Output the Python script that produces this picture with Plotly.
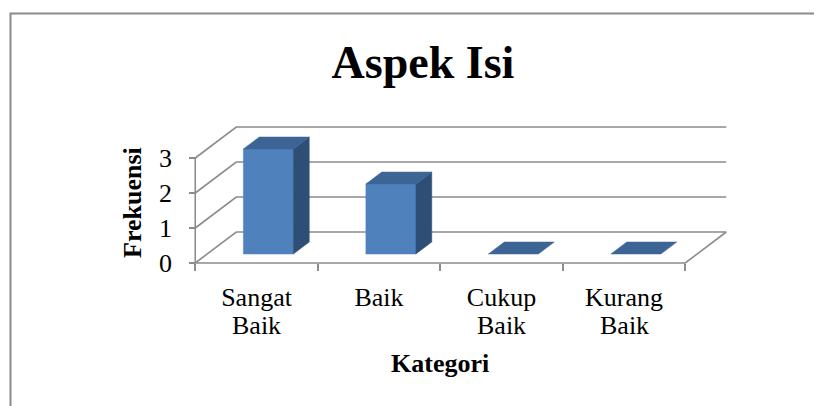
import plotly.graph_objects as go

# ---- data ----
categories = ["Sangat Baik", "Baik", "Cukup Baik", "Kurang Baik"]
label_line1 = ["Sangat", "Baik", "Cukup", "Kurang"]
label_line2 = ["Baik", "", "Baik", "Baik"]
frekuensi = [3, 2, 0, 0]
y_ticks = [0, 1, 2, 3]

# ---- pseudo-3D geometry ----
OFF = 8                # browser body margin
W, H = 822 - OFF, 406 - OFF
PX_PER_CAT = 122.5     # pixels per category
PX_PER_UNIT = 35.0     # pixels per frequency unit
X0_PX = 256.5 - OFF    # pixel of first category centre
Y0_PX = 263.0 - OFF    # pixel of value 0 (front floor)
DX = 41 / PX_PER_CAT   # depth offset x
DY = 31 / PX_PER_UNIT  # depth offset y
F0, F1 = 9 / 31, 21 / 31   # bar depth span (fraction of floor depth)
BW = 50 / PX_PER_CAT       # bar width

FONT = "Liberation Serif"
GRID = "#8c8c8c"
C_FRONT, C_TOP, C_SIDE = "#4F81BD", "#3C6494", "#2F4E76"

xr = [(0 - X0_PX) / PX_PER_CAT, (W - X0_PX) / PX_PER_CAT]
yr = [(Y0_PX - H) / PX_PER_UNIT, Y0_PX / PX_PER_UNIT]

n = len(categories)
left, right = -0.5, n - 0.5
ymax = max(y_ticks)

fig = go.Figure()

def line(xs, ys, width=1.6, color=GRID):
    fig.add_trace(go.Scatter(x=xs, y=ys, mode="lines", hoverinfo="skip",
                             line=dict(color=color, width=width), showlegend=False))

def poly(xs, ys, color):
    fig.add_trace(go.Scatter(x=xs + [xs[0]], y=ys + [ys[0]], mode="lines", fill="toself",
                             fillcolor=color, line=dict(color=color, width=0.5),
                             hoverinfo="skip", showlegend=False))

# side-wall diagonals and back-wall gridlines
for v in y_ticks:
    line([left, left + DX, right + DX], [v, v + DY, v + DY])
# front vertical axis
line([left, left], [0, ymax])
# floor front edge and right edge
line([left, right, right + DX], [0, 0, DY])

# bars
for i, v in enumerate(frekuensi):
    xl = i - BW / 2 + F0 * DX
    xr_ = i + BW / 2 + F0 * DX
    yb = F0 * DY
    yt = yb + v
    ddx = (F1 - F0) * DX
    ddy = (F1 - F0) * DY
    if v > 0:
        poly([xl, xr_, xr_, xl], [yb, yb, yt, yt], C_FRONT)
        poly([xr_, xr_ + ddx, xr_ + ddx, xr_], [yb, yb + ddy, yt + ddy, yt], C_SIDE)
    poly([xl, xr_, xr_ + ddx, xl + ddx], [yt, yt, yt + ddy, yt + ddy], C_TOP)

# second line of category labels (Excel-style wrap, tighter spacing than <br>)
annotations = []
for i, t in enumerate(label_line2):
    if t:
        annotations.append(dict(text=t, xref="x", yref="paper", x=i,
                                y=(H - (325 - OFF)) / H, xanchor="center", yanchor="middle",
                                showarrow=False,
                                font=dict(family=FONT, size=26, color="black")))

annotations += [
    dict(text="<b>Kategori</b>", xref="paper", yref="paper",
         x=(440 - OFF) / W, y=(H - (363 - OFF)) / H, xanchor="center", yanchor="middle",
         showarrow=False, font=dict(family=FONT, size=26, color="black")),
    dict(text="<b>Frekuensi</b>", xref="paper", yref="paper",
         x=(133 - OFF) / W, y=(H - (203 - OFF)) / H, xanchor="center", yanchor="middle",
         textangle=-90, showarrow=False,
         font=dict(family=FONT, size=26, color="black")),
]

fig.update_layout(
    width=W, height=H, autosize=False,
    margin=dict(l=0, r=0, t=0, b=0),
    paper_bgcolor="white", plot_bgcolor="white",
    font=dict(family=FONT, color="black"),
    title=dict(text="<b>Aspek Isi</b>", x=(423 - OFF) / W, xanchor="center",
               y=1 - (62 - OFF) / H, yanchor="middle", yref="container",
               font=dict(family=FONT, size=46, color="black")),
    xaxis=dict(range=xr, domain=[0, 1], anchor="free",
               position=(H - Y0_PX) / H,
               showgrid=False, zeroline=False, showline=False,
               tickmode="array", tickvals=list(range(n)), ticktext=label_line1,
               ticks="", ticklabelstandoff=16,
               tickfont=dict(family=FONT, size=26, color="black"),
               minor=dict(tickmode="array",
                          tickvals=[k - 0.5 for k in range(n + 1)],
                          ticks="outside", ticklen=7, tickwidth=1.6, tickcolor=GRID)),
    yaxis=dict(range=yr, domain=[0, 1], anchor="free",
               position=(X0_PX - 0.5 * PX_PER_CAT) / W,
               showgrid=False, zeroline=False, showline=False,
               tickmode="array", tickvals=y_ticks,
               ticks="outside", ticklen=6, tickwidth=1.6, tickcolor=GRID,
               ticklabelstandoff=12,
               tickfont=dict(family=FONT, size=26, color="black")),
    annotations=annotations,
    shapes=[dict(type="rect", xref="paper", yref="paper",
                 x0=(10.5 - OFF) / W, x1=1.05, y0=-0.05, y1=(H - (13.5 - OFF)) / H,
                 line=dict(color="#8a8a8a", width=2), layer="below")],
)

fig.write_html("out.html")
